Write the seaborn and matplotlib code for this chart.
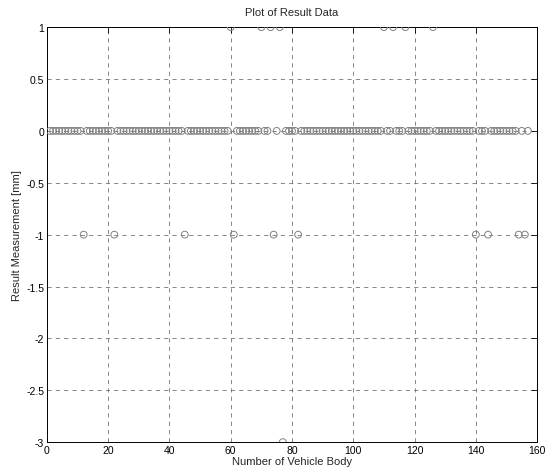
import pandas as pd
import seaborn as sns
import matplotlib.pyplot as plt

vehicle = list(range(1, 158))
result = [
    0, 0, 0, 0, 0, 0, 0, 0, 0, 0, 0, -1, 0, 0, 0, 0, 0, 0, 0, 0,   # 1-20
    0, -1, 0, 0, 0, 0, 0, 0, 0, 0, 0, 0, 0, 0, 0, 0, 0, 0, 0, 0,   # 21-40
    0, 0, 0, 0, -1, 0, 0, 0, 0, 0, 0, 0, 0, 0, 0, 0, 0, 0, 0, 1,   # 41-60
    -1, 0, 0, 0, 0, 0, 0, 0, 0, 1, 0, 0, 1, -1, 0, 1, -3, 0, 0, 0, # 61-80
    0, -1, 0, 0, 0, 0, 0, 0, 0, 0, 0, 0, 0, 0, 0, 0, 0, 0, 0, 0,   # 81-100
    0, 0, 0, 0, 0, 0, 0, 0, 0, 1, 0, 0, 1, 0, 0, 0, 1, 0, 0, 0,    # 101-120
    0, 0, 0, 0, 0, 1, 0, 0, 0, 0, 0, 0, 0, 0, 0, 0, 0, 0, 0, -1,   # 121-140
    0, 0, 0, -1, 0, 0, 0, 0, 0, 0, 0, 0, 0, -1, 0, -1, 0,          # 141-157
]

x_ticks = [0, 20, 40, 60, 80, 100, 120, 140, 160]
y_ticks = [-3, -2.5, -2, -1.5, -1, -0.5, 0, 0.5, 1]
y_labels = ['-3', '-2.5', '-2', '-1.5', '-1', '-0.5', '0', '0.5', '1']

df = pd.DataFrame({'vehicle': vehicle, 'result': result})

sns.set_style('white')
plt.rcParams['font.family'] = ['Liberation Sans', 'DejaVu Sans']

fig = plt.figure(figsize=(5.52, 4.77), dpi=100)
ax = fig.add_axes([0.085, 0.071, 0.888, 0.870])

sns.scatterplot(data=df, x='vehicle', y='result', ax=ax, marker='o', s=24,
                facecolors='none', edgecolors='0.5', linewidth=0.7, zorder=3)

ax.set_xlim(0, 160)
ax.set_ylim(-3, 1)
ax.set_xticks(x_ticks)
ax.set_xticklabels([str(t) for t in x_ticks])
ax.set_yticks(y_ticks)
ax.set_yticklabels(y_labels)

ax.grid(True, color='0.45', linestyle=(0, (5, 5)), linewidth=0.6)
ax.tick_params(direction='in', length=4, width=0.6, labelsize=7.5,
               top=True, right=True, colors='black', pad=2)
for s in ax.spines.values():
    s.set_color('black')
    s.set_linewidth(0.7)

ax.set_title('Plot of Result Data', fontsize=8, pad=9)
ax.set_xlabel('Number of Vehicle Body', fontsize=8, labelpad=1)
ax.set_ylabel('Result Measurement [mm]', fontsize=8, labelpad=3)

fig.savefig('out.png', dpi=100, facecolor='white')
